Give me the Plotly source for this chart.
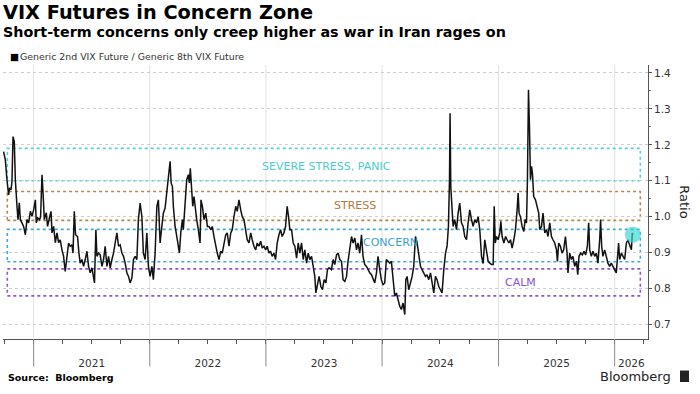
import plotly.graph_objects as go
import pandas as pd
import numpy as np

# ---- data (decimal years, ratio values) ----
dec_years = [
    2020.742, 2020.757, 2020.771, 2020.785, 2020.794, 2020.806, 2020.814, 2020.823, 2020.834, 2020.843,
    2020.857, 2020.866, 2020.877, 2020.886, 2020.900, 2020.914, 2020.929, 2020.943, 2020.957, 2020.972,
    2020.986, 2021.000, 2021.015, 2021.023, 2021.034, 2021.052, 2021.060, 2021.072, 2021.081, 2021.092,
    2021.109, 2021.120, 2021.138, 2021.150, 2021.158, 2021.172, 2021.187, 2021.201, 2021.215, 2021.229,
    2021.244, 2021.258, 2021.272, 2021.287, 2021.301, 2021.315, 2021.330, 2021.339, 2021.350, 2021.361,
    2021.378, 2021.390, 2021.401, 2021.416, 2021.430, 2021.444, 2021.459, 2021.473, 2021.487, 2021.502,
    2021.516, 2021.524, 2021.536, 2021.545, 2021.559, 2021.573, 2021.588, 2021.602, 2021.616, 2021.631,
    2021.645, 2021.659, 2021.674, 2021.688, 2021.702, 2021.717, 2021.731, 2021.745, 2021.760, 2021.774,
    2021.788, 2021.803, 2021.817, 2021.831, 2021.846, 2021.860, 2021.874, 2021.889, 2021.902, 2021.917,
    2021.932, 2021.945, 2021.960, 2021.975, 2021.988, 2022.003, 2022.018, 2022.031, 2022.046, 2022.061,
    2022.074, 2022.089, 2022.104, 2022.117, 2022.132, 2022.147, 2022.160, 2022.175, 2022.184, 2022.195,
    2022.203, 2022.218, 2022.233, 2022.246, 2022.255, 2022.267, 2022.281, 2022.289, 2022.304, 2022.318,
    2022.332, 2022.341, 2022.349, 2022.361, 2022.370, 2022.381, 2022.392, 2022.404, 2022.418, 2022.433,
    2022.441, 2022.453, 2022.467, 2022.482, 2022.496, 2022.510, 2022.525, 2022.538, 2022.553, 2022.568,
    2022.581, 2022.596, 2022.611, 2022.624, 2022.639, 2022.654, 2022.667, 2022.682, 2022.697, 2022.710,
    2022.725, 2022.740, 2022.753, 2022.768, 2022.783, 2022.796, 2022.811, 2022.826, 2022.839, 2022.854,
    2022.869, 2022.882, 2022.897, 2022.912, 2022.925, 2022.940, 2022.955, 2022.968, 2022.983, 2022.998,
    2023.011, 2023.026, 2023.040, 2023.054, 2023.069, 2023.083, 2023.097, 2023.112, 2023.126, 2023.140,
    2023.155, 2023.169, 2023.183, 2023.195, 2023.206, 2023.221, 2023.235, 2023.249, 2023.264, 2023.278,
    2023.292, 2023.307, 2023.321, 2023.335, 2023.350, 2023.364, 2023.378, 2023.393, 2023.407, 2023.421,
    2023.430, 2023.444, 2023.458, 2023.473, 2023.487, 2023.501, 2023.516, 2023.530, 2023.544, 2023.564,
    2023.579, 2023.593, 2023.608, 2023.622, 2023.636, 2023.651, 2023.664, 2023.679, 2023.694, 2023.707,
    2023.722, 2023.737, 2023.750, 2023.765, 2023.780, 2023.793, 2023.808, 2023.823, 2023.836, 2023.851,
    2023.866, 2023.879, 2023.894, 2023.909, 2023.922, 2023.937, 2023.952, 2023.965, 2023.980, 2023.994,
    2024.008, 2024.023, 2024.037, 2024.051, 2024.066, 2024.080, 2024.094, 2024.109, 2024.123, 2024.137,
    2024.152, 2024.166, 2024.180, 2024.195, 2024.204, 2024.215, 2024.229, 2024.244, 2024.258, 2024.272,
    2024.287, 2024.301, 2024.315, 2024.330, 2024.343, 2024.358, 2024.373, 2024.386, 2024.401, 2024.416,
    2024.429, 2024.444, 2024.459, 2024.472, 2024.487, 2024.502, 2024.515, 2024.530, 2024.545, 2024.558,
    2024.570, 2024.579, 2024.584, 2024.590, 2024.599, 2024.610, 2024.624, 2024.639, 2024.653, 2024.667,
    2024.682, 2024.696, 2024.710, 2024.725, 2024.739, 2024.753, 2024.768, 2024.782, 2024.796, 2024.811,
    2024.825, 2024.839, 2024.854, 2024.868, 2024.882, 2024.897, 2024.911, 2024.925, 2024.940, 2024.954,
    2024.963, 2024.972, 2024.983, 2024.997, 2025.011, 2025.020, 2025.031, 2025.046, 2025.061, 2025.074,
    2025.089, 2025.103, 2025.117, 2025.132, 2025.146, 2025.160, 2025.169, 2025.177, 2025.189, 2025.203,
    2025.218, 2025.229, 2025.241, 2025.249, 2025.258, 2025.267, 2025.275, 2025.284, 2025.292, 2025.303,
    2025.318, 2025.332, 2025.346, 2025.355, 2025.370, 2025.383, 2025.398, 2025.413, 2025.426, 2025.441,
    2025.456, 2025.469, 2025.484, 2025.499, 2025.507, 2025.518, 2025.533, 2025.547, 2025.561, 2025.576,
    2025.590, 2025.598, 2025.613, 2025.627, 2025.641, 2025.656, 2025.671, 2025.682, 2025.693, 2025.707,
    2025.722, 2025.736, 2025.750, 2025.765, 2025.776, 2025.785, 2025.799, 2025.813, 2025.828, 2025.842,
    2025.856, 2025.871, 2025.879, 2025.888, 2025.899, 2025.914, 2025.928, 2025.942, 2025.957, 2025.971,
    2025.985, 2026.000, 2026.014, 2026.023, 2026.034, 2026.043, 2026.058, 2026.072, 2026.086, 2026.101,
    2026.115, 2026.123, 2026.135, 2026.144, 2026.152, 2026.157,
]

ratio = [
    1.181, 1.158, 1.103, 1.061, 1.080, 1.075, 1.098, 1.223, 1.209, 1.103,
    1.029, 0.992, 1.039, 0.992, 0.983, 0.973, 0.950, 0.992, 0.983, 1.015,
    1.001, 1.019, 1.047, 0.983, 0.997, 0.992, 1.000, 1.117, 1.067, 0.992,
    1.011, 0.973, 1.000, 1.015, 0.955, 0.973, 0.928, 0.955, 0.928, 0.936,
    0.908, 0.890, 0.848, 0.899, 0.927, 0.918, 0.922, 0.899, 1.015, 0.950,
    0.945, 0.899, 0.871, 0.881, 0.862, 0.881, 0.904, 0.862, 0.844, 0.858,
    0.834, 0.816, 0.964, 0.890, 0.899, 0.894, 0.862, 0.881, 0.918, 0.862,
    0.890, 0.858, 0.881, 0.899, 0.927, 0.955, 0.918, 0.922, 0.899, 0.890,
    0.871, 0.844, 0.834, 0.816, 0.830, 0.881, 0.890, 0.881, 0.992, 1.038,
    1.000, 0.899, 0.881, 0.955, 0.862, 0.834, 0.862, 0.825, 0.899, 1.029,
    1.047, 0.927, 0.973, 1.010, 1.024, 1.070, 1.120, 1.154, 1.094, 1.084,
    1.029, 0.973, 0.945, 0.918, 0.899, 0.955, 0.992, 0.964, 1.029, 1.103,
    1.117, 1.094, 1.135, 1.084, 1.029, 1.056, 1.019, 0.992, 0.964, 0.927,
    1.047, 1.029, 0.992, 1.010, 0.973, 0.973, 0.964, 0.973, 0.945, 0.918,
    0.899, 0.881, 0.904, 0.899, 0.927, 0.950, 0.955, 0.918, 0.955, 0.964,
    1.000, 1.029, 1.015, 1.047, 1.019, 1.000, 0.992, 0.955, 0.936, 0.927,
    0.955, 0.936, 0.918, 0.908, 0.927, 0.918, 0.932, 0.913, 0.918, 0.908,
    0.918, 0.899, 0.904, 0.890, 0.899, 0.881, 0.927, 0.950, 0.964, 0.945,
    0.955, 0.973, 1.029, 1.000, 0.964, 0.964, 0.927, 0.918, 0.885, 0.927,
    0.899, 0.927, 0.881, 0.908, 0.871, 0.899, 0.881, 0.890, 0.862, 0.834,
    0.788, 0.816, 0.834, 0.806, 0.797, 0.825, 0.816, 0.853, 0.858, 0.853,
    0.881, 0.867, 0.894, 0.899, 0.881, 0.876, 0.825, 0.820, 0.834, 0.876,
    0.908, 0.945, 0.927, 0.941, 0.908, 0.927, 0.899, 0.950, 0.890, 0.867,
    0.862, 0.853, 0.844, 0.839, 0.825, 0.816, 0.844, 0.890, 0.853, 0.825,
    0.811, 0.816, 0.881, 0.876, 0.871, 0.876, 0.825, 0.779, 0.788, 0.769,
    0.751, 0.742, 0.760, 0.728, 0.825, 0.834, 0.797, 0.816, 0.834, 0.862,
    0.945, 0.927, 0.890, 0.862, 0.853, 0.844, 0.834, 0.839, 0.825, 0.844,
    0.816, 0.788, 0.834, 0.825, 0.806, 0.797, 0.788, 0.853, 0.899, 0.918,
    0.973, 1.103, 1.288, 1.084, 1.038, 0.973, 0.992, 0.964, 1.010, 1.038,
    0.983, 0.973, 0.945, 0.936, 0.983, 1.019, 0.992, 0.973, 0.992, 0.983,
    1.000, 0.964, 0.890, 0.870, 0.936, 0.908, 0.876, 0.871, 0.867, 0.867,
    1.029, 0.927, 0.945, 0.936, 0.955, 0.987, 0.945, 0.927, 0.945, 0.936,
    0.927, 0.936, 0.913, 0.936, 0.964, 1.019, 1.066, 1.010, 1.000, 0.973,
    0.959, 0.992, 0.983, 1.103, 1.353, 1.242, 1.103, 1.140, 1.121, 1.056,
    1.047, 1.029, 1.010, 0.964, 0.973, 1.010, 0.955, 0.964, 0.945, 0.983,
    0.945, 0.936, 0.927, 0.908, 0.876, 0.927, 0.918, 0.899, 0.908, 0.945,
    0.899, 0.844, 0.899, 0.881, 0.890, 0.862, 0.876, 0.839, 0.890, 0.899,
    0.894, 0.904, 0.894, 0.918, 0.983, 0.908, 0.890, 0.904, 0.890, 0.899,
    0.871, 0.936, 0.992, 0.918, 0.890, 0.908, 0.890, 0.871, 0.862, 0.871,
    0.862, 0.853, 0.844, 0.881, 0.927, 0.881, 0.899, 0.890, 0.881, 0.927,
    0.936, 0.927, 0.918, 0.908, 0.955, 0.950,
]

years = [2021, 2022, 2023, 2024, 2025, 2026]
year_labels = ["2021", "2022", "2023", "2024", "2025", "2026"]

band_names = ["SEVERE STRESS, PANIC", "STRESS", "CONCERN", "CALM"]
band_low = [1.10, 0.99, 0.875, 0.78]
band_high = [1.19, 1.07, 0.965, 0.855]

y_ticks = [0.7, 0.8, 0.9, 1.0, 1.1, 1.2, 1.3, 1.4]

# ---- helpers ----
def to_ts(v):
    yr = int(np.floor(v))
    start = pd.Timestamp(year=yr, month=1, day=1)
    end = pd.Timestamp(year=yr + 1, month=1, day=1)
    return start + (end - start) * (v - yr)

dates = [to_ts(v) for v in dec_years]

x_start = to_ts(2020.737)
x_end = to_ts(2026.287)
band_x0 = to_ts(2020.774)
band_x1 = to_ts(2026.221)

band_colors = ["#55d4d4", "#b9874e", "#42a9d9", "#8c55d9"]
band_text_colors = ["#4ccccc", "#b07a40", "#3a9fd2", "#8a4fd4"]
band_label_pos = [(2023.52, 1.141), (2023.77, 1.030), (2024.074, 0.927), (2025.192, 0.817)]

fig = go.Figure()

fig.add_trace(go.Scatter(
    x=dates, y=ratio, mode="lines",
    line=dict(color="#111111", width=1.5),
    showlegend=False, hoverinfo="skip",
))
fig.add_trace(go.Scatter(
    x=[dates[-1]], y=[ratio[-1]], mode="markers",
    marker=dict(size=16, color="rgba(52,214,208,0.65)", line=dict(width=0)),
    showlegend=False, hoverinfo="skip",
))

shapes = []
# bands
for lo, hi, col in zip(band_low, band_high, band_colors):
    shapes.append(dict(type="rect", xref="x", yref="y", x0=band_x0, x1=band_x1,
                       y0=lo, y1=hi, line=dict(color=col, width=1.6, dash="dot"),
                       fillcolor="rgba(0,0,0,0)", layer="below"))
# year separators
for yr in years:
    xs = pd.Timestamp(year=yr, month=1, day=1)
    shapes.append(dict(type="line", xref="x", yref="paper", x0=xs, x1=xs, y0=0, y1=1,
                       line=dict(color="#e2e2e2", width=1), layer="below"))
    shapes.append(dict(type="line", xref="x", yref="paper", x0=xs, x1=xs, y0=-0.1, y1=0,
                       line=dict(color="#8a8a8a", width=1), layer="above"))
# Bloomberg logo mark
shapes.append(dict(type="rect", xref="paper", yref="paper", x0=1.0496, x1=1.0636,
                   y0=-0.157, y1=-0.115, line=dict(width=0), fillcolor="#222222"))

annotations = []
for name, (px, py), col in zip(band_names, band_label_pos, band_text_colors):
    annotations.append(dict(xref="x", yref="y", x=to_ts(px), y=py, text=name,
                            showarrow=False, font=dict(family="DejaVu Sans", size=11, color=col)))

annotations += [
    dict(xref="paper", yref="paper", x=-0.003, y=1.19, xanchor="left", yanchor="middle",
         text="<b>VIX Futures in Concern Zone</b>", showarrow=False,
         font=dict(family="DejaVu Sans", size=19.3, color="#000000")),
    dict(xref="paper", yref="paper", x=-0.003, y=1.12, xanchor="left", yanchor="middle",
         text="<b>Short-term concerns only creep higher as war in Iran rages on</b>", showarrow=False,
         font=dict(family="DejaVu Sans", size=14.3, color="#000000")),
    dict(xref="paper", yref="paper", x=0.0085, y=1.031, xanchor="left", yanchor="middle",
         text="■", showarrow=False, font=dict(family="DejaVu Sans", size=9.5, color="#000000")),
    dict(xref="paper", yref="paper", x=0.0225, y=1.031, xanchor="left", yanchor="middle",
         text="Generic 2nd VIX Future / Generic 8th VIX Future", showarrow=False,
         font=dict(family="DejaVu Sans", size=9.4, color="#333333")),
    dict(xref="paper", yref="paper", x=1.057, y=0.5, xanchor="center", yanchor="middle",
         text="Ratio", textangle=90, showarrow=False,
         font=dict(family="DejaVu Sans", size=13, color="#222222")),
    dict(xref="paper", yref="paper", x=0.005, y=-0.141, xanchor="left", yanchor="middle",
         text="<b>Source:  Bloomberg</b>", showarrow=False,
         font=dict(family="DejaVu Sans", size=9.5, color="#000000")),
    dict(xref="paper", yref="paper", x=1.038, y=-0.136, xanchor="right", yanchor="middle",
         text="Bloomberg", showarrow=False,
         font=dict(family="DejaVu Sans", size=13, color="#222222")),
]

# year labels at middle of visible part of each year
tickvals = []
for yr in years:
    a = max(pd.Timestamp(year=yr, month=1, day=1), x_start)
    b = min(pd.Timestamp(year=yr + 1, month=1, day=1), x_end)
    tickvals.append(a + (b - a) / 2)

fig.update_layout(
    width=700, height=394,
    margin=dict(l=3, r=52, t=65, b=55),
    paper_bgcolor="#ffffff", plot_bgcolor="#ffffff",
    font=dict(family="DejaVu Sans", color="#333333"),
    shapes=shapes, annotations=annotations,
    showlegend=False,
    xaxis=dict(
        type="date", range=[x_start, x_end],
        tickmode="array", tickvals=tickvals, ticktext=year_labels,
        ticks="", ticklabelstandoff=14,
        tickfont=dict(family="DejaVu Sans", size=10.5, color="#333333"),
        showgrid=False, zeroline=False,
        showline=True, linecolor="#555555", linewidth=1,
        minor=dict(ticks="outside", ticklen=4, tickcolor="#555555",
                   tickmode="linear", tick0="2021-01-01", dtick="M3", showgrid=False),
    ),
    yaxis=dict(
        side="right", range=[0.66, 1.422],
        tickmode="array", tickvals=y_ticks, ticktext=[f"{v:.1f}" for v in y_ticks],
        ticks="outside", ticklen=3, tickcolor="#555555",
        tickfont=dict(family="DejaVu Sans", size=10.5, color="#333333"),
        showgrid=True, gridcolor="#cfcfcf", griddash="dot", gridwidth=1,
        zeroline=False, showline=True, linecolor="#555555", linewidth=1,
        minor=dict(ticks="outside", ticklen=2, tickcolor="#777777",
                   tickmode="linear", tick0=0.65, dtick=0.1, showgrid=False),
    ),
)

fig.write_html(
    "out.html",
    config={"displayModeBar": False},
    post_script="document.body.style.margin='0';document.body.style.overflow='hidden';",
)
